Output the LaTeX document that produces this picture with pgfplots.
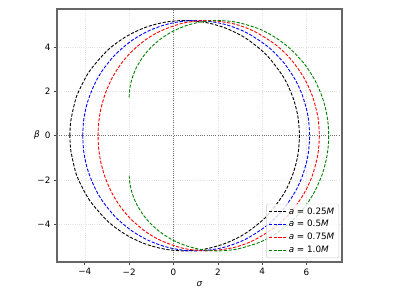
\documentclass[border=0pt]{standalone}
\usepackage{fontspec}
\setmainfont{DejaVu Sans}
\usepackage{pgfplots}
\pgfplotsset{compat=1.18}
\definecolor{mplgreen}{RGB}{0,128,0}
\begin{document}
\begin{tikzpicture}[font=\fontsize{8.8}{10}\selectfont]
\path[use as bounding box] (-57pt,-37pt) rectangle (342pt,262pt);
\begin{axis}[
  at={(0pt,0pt)}, anchor=south west,
  scale only axis, width=285pt, height=253pt,
  xmin=-5.255, xmax=7.60, ymin=-5.697, ymax=5.715,
  axis line style={line width=1.1pt, black!60},
  tick align=outside, tick pos=left,
  major tick length=3pt,
  tick style={black!75, line width=0.7pt},
  xtick={-4,-2,0,2,4,6}, xticklabels={−4,−2,0,2,4,6},
  ytick={-4,-2,0,2,4}, yticklabels={−4,−2,0,2,4},
  grid=major, major grid style={black!11, line width=0.6pt, dash pattern=on 0.8pt off 1.4pt},
  legend style={at={(axis description cs:0.9895,0.0158)}, anchor=south east,
    draw=black!20, rounded corners=2pt, fill=white, fill opacity=0.8, text opacity=1,
    inner xsep=2pt, inner ysep=1.5pt, row sep=0pt,
    font=\fontsize{8.8}{10}\selectfont,
    nodes={text height=6.5pt, text depth=1.8pt, inner ysep=2.2pt, inner xsep=2.5pt}},
  legend cell align=left,
  legend image code/.code={\draw[#1] (0pt,0pt) -- (17pt,0pt);},
  every axis plot/.append style={line width=0.9pt, dash pattern=on 3.2pt off 1.6pt},
]
\addplot[forget plot, black!55, line width=0.8pt, dash pattern=on 0.9pt off 1.3pt] coordinates {(0,-5.697) (0,5.715)};
\addplot[forget plot, black!55, line width=0.8pt, dash pattern=on 0.9pt off 1.3pt] coordinates {(-5.255,0) (7.60,0)};
% a = 0.25
\addplot[black, smooth] coordinates {
(-4.675,0) (-4.634,0.655) (-4.440,1.551) (-4.277,2.000) (-3.786,2.914) (-2.957,3.868) (-2.114,4.485) (-1.257,4.888) (-0.386,5.120) (0.500,5.196) (1.402,5.117) (2.319,4.865) (3.252,4.402) (4.201,3.635) (4.972,2.622) (5.362,1.793) (5.558,1.123) (5.636,0.675) (5.680,0)
(5.636,-0.675) (5.558,-1.123) (5.362,-1.793) (4.972,-2.622) (4.201,-3.635) (3.252,-4.402) (2.319,-4.865) (1.402,-5.117) (0.500,-5.196) (-0.386,-5.120) (-1.257,-4.888) (-2.114,-4.485) (-2.957,-3.868) (-3.786,-2.914) (-4.277,-2.000) (-4.440,-1.551) (-4.634,-0.655) (-4.675,0)
};
\addlegendentry{{\itshape a} = 0.25{\itshape M}}
% a = 0.5
\addplot[blue, smooth] coordinates {
(-4.096,0) (-4.063,0.594) (-4.007,0.974) (-3.865,1.553) (-3.580,2.286) (-3.219,2.922) (-2.631,3.654) (-1.873,4.297) (-1.089,4.743) (-0.277,5.032) (0.567,5.178) (1.442,5.177) (2.350,5.013) (3.292,4.649) (4.268,4.007) (4.973,3.292) (5.487,2.529) (5.800,1.852) (6.010,1.151) (6.095,0.672) (6.138,0)
(6.095,-0.672) (6.010,-1.151) (5.800,-1.852) (5.487,-2.529) (4.973,-3.292) (4.268,-4.007) (3.292,-4.649) (2.350,-5.013) (1.442,-5.177) (0.567,-5.178) (-0.277,-5.032) (-1.089,-4.743) (-1.873,-4.297) (-2.631,-3.654) (-3.219,-2.922) (-3.580,-2.286) (-3.865,-1.553) (-4.007,-0.974) (-4.063,-0.594) (-4.096,0)
};
\addlegendentry{{\itshape a} = 0.5{\itshape M}}
% a = 0.75
\addplot[red, smooth] coordinates {
(-3.403,0) (-3.390,0.395) (-3.351,0.772) (-3.275,1.209) (-3.083,1.886) (-2.775,2.591) (-2.382,3.221) (-1.894,3.791) (-1.251,4.332) (-0.566,4.731) (0.422,5.075) (1.500,5.196) (2.673,5.054) (3.617,4.719) (4.617,4.095) (5.315,3.421) (5.891,2.601) (6.260,1.802) (6.484,0.985) (6.544,0.585) (6.577,0)
(6.544,-0.585) (6.484,-0.985) (6.260,-1.802) (5.891,-2.601) (5.315,-3.421) (4.617,-4.095) (3.617,-4.719) (2.673,-5.054) (1.500,-5.196) (0.422,-5.075) (-0.566,-4.731) (-1.251,-4.332) (-1.894,-3.791) (-2.382,-3.221) (-2.775,-2.591) (-3.083,-1.886) (-3.275,-1.209) (-3.351,-0.772) (-3.390,-0.395) (-3.403,0)
};
\addlegendentry{{\itshape a} = 0.75{\itshape M}}
% a = 1.0
\addplot[mplgreen, smooth] coordinates {
(-2.000,1.732) (-1.990,1.965) (-1.960,2.200) (-1.910,2.436) (-1.840,2.671) (-1.750,2.905) (-1.640,3.135) (-1.360,3.582) (-1.000,4.000) (-0.560,4.378) (-0.040,4.703) (0.560,4.961) (1.240,5.133) (2.000,5.196) (2.840,5.120) (3.760,4.856) (4.250,4.630) (4.760,4.320) (5.290,3.898) (5.840,3.313) (6.123,2.926) (6.410,2.436) (6.703,1.755) (6.880,1.123) (6.970,0.565) (7.000,0)
(6.970,-0.565) (6.880,-1.123) (6.703,-1.755) (6.410,-2.436) (6.123,-2.926) (5.840,-3.313) (5.290,-3.898) (4.760,-4.320) (4.250,-4.630) (3.760,-4.856) (2.840,-5.120) (2.000,-5.196) (1.240,-5.133) (0.560,-4.961) (-0.040,-4.703) (-0.560,-4.378) (-1.000,-4.000) (-1.360,-3.582) (-1.640,-3.135) (-1.750,-2.905) (-1.840,-2.671) (-1.910,-2.436) (-1.960,-2.200) (-1.990,-1.965) (-2.000,-1.732)
};
\addlegendentry{{\itshape a} = 1.0{\itshape M}}
\end{axis}
\node at (142.5pt,-22pt) {\itshape σ};
\node at (-20pt,126.5pt) {\itshape β};
\end{tikzpicture}
\end{document}
